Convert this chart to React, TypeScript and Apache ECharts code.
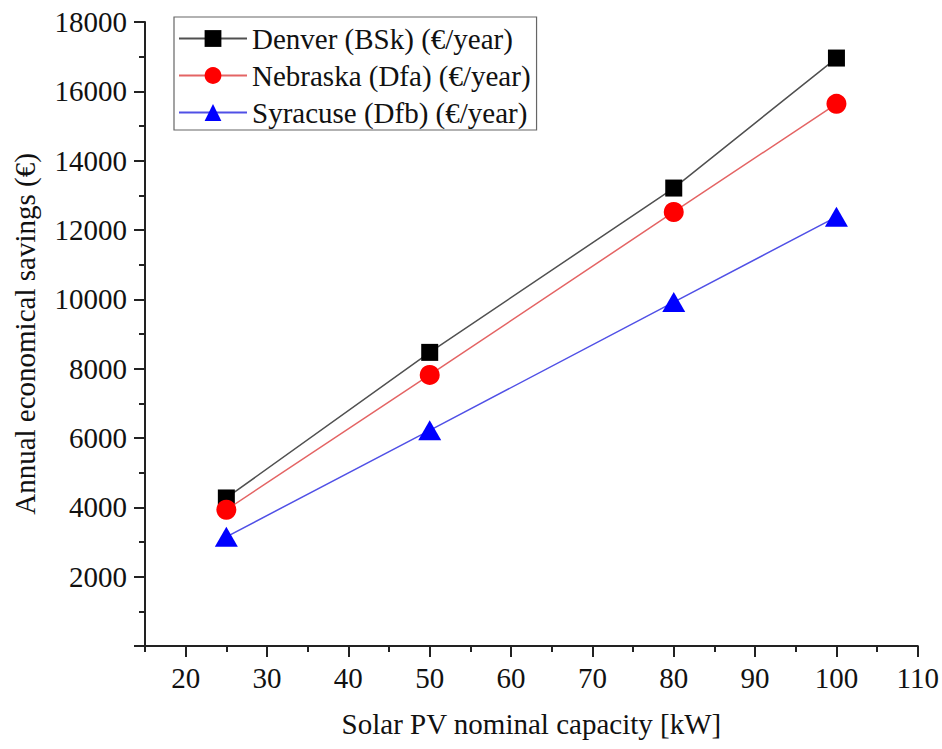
import React, { useEffect, useRef } from "react";
import * as echarts from "echarts";

const capacities = [25, 50, 80, 100];
const denver = [4270, 8470, 13210, 16960];
const nebraska = [3930, 7820, 12520, 15640];
const syracuse = [3150, 6220, 9920, 12380];
const xMajorTicks = [20, 30, 40, 50, 60, 70, 80, 90, 100, 110];
const xMinorTicks = [15, 25, 35, 45, 55, 65, 75, 85, 95, 105];
const seriesNames = [
  "Denver (BSk) (€/year)",
  "Nebraska (Dfa) (€/year)",
  "Syracuse (Dfb) (€/year)",
];

const FONT = "Liberation Serif";

export default function App() {
  const ref = useRef<HTMLDivElement>(null);
  useEffect(() => {
    if (!ref.current) return;
    const chart = echarts.init(ref.current, null, { renderer: "svg" });
    const toPairs = (ys: number[]) => capacities.map((x, i) => [x, ys[i]]);
    const axisColor = "#222";
    const txt = { fontFamily: FONT, fontSize: 29, color: "#111" };
    chart.setOption({
      animation: false,
      backgroundColor: "#ffffff",
      textStyle: txt,
      grid: { left: 145, top: 22, right: 23, bottom: 103, containLabel: false },
      legend: {
        orient: "vertical",
        left: 174,
        top: 17,
        padding: [7, 6, 3, 4],
        itemGap: 8,
        itemWidth: 68,
        itemHeight: 21,
        borderColor: "#666",
        borderWidth: 1.2,
        borderRadius: 0,
        backgroundColor: "#fff",
        textStyle: { ...txt },
        data: seriesNames,
      },
      xAxis: [
        {
          type: "value",
          min: 15,
          max: 110,
          name: "Solar PV nominal capacity [kW]",
          nameLocation: "middle",
          nameGap: 63,
          nameTextStyle: { ...txt },
          axisLine: { show: true, lineStyle: { color: axisColor, width: 2 } },
          axisTick: {
            show: true,
            inside: false,
            length: 11,
            lineStyle: { color: axisColor, width: 2 },
            customValues: xMajorTicks,
          },
          axisLabel: {
            ...txt,
            margin: 17,
            customValues: xMajorTicks,
          },
          splitLine: { show: false },
        },
        {
          type: "value",
          min: 15,
          max: 110,
          position: "bottom",
          axisLine: { show: false },
          axisTick: {
            show: true,
            inside: false,
            length: 6,
            lineStyle: { color: axisColor, width: 2 },
            customValues: xMinorTicks,
          },
          axisLabel: { show: false },
          splitLine: { show: false },
        },
      ],
      yAxis: {
        type: "value",
        min: 0,
        max: 18000,
        interval: 2000,
        name: "Annual economical savings (€)",
        nameLocation: "middle",
        nameGap: 106,
        nameTextStyle: { ...txt },
        axisLine: { show: true, lineStyle: { color: axisColor, width: 2 } },
        axisTick: {
          show: true,
          inside: false,
          length: 11,
          lineStyle: { color: axisColor, width: 2 },
        },
        minorTick: {
          show: true,
          splitNumber: 2,
          length: 6,
          lineStyle: { color: axisColor, width: 2 },
        },
        axisLabel: {
          ...txt,
          margin: 18,
          formatter: (v: number) => (v === 0 ? "" : String(v)),
        },
        splitLine: { show: false },
      },
      series: [
        {
          name: seriesNames[0],
          type: "line",
          data: toPairs(denver),
          symbol: "rect",
          symbolSize: 17,
          lineStyle: { color: "#505050", width: 1.5 },
          itemStyle: { color: "#000000" },
          z: 3,
        },
        {
          name: seriesNames[1],
          type: "line",
          data: toPairs(nebraska),
          symbol: "circle",
          symbolSize: 20,
          lineStyle: { color: "#e46464", width: 1.5 },
          itemStyle: { color: "#ff0000" },
          z: 4,
        },
        {
          name: seriesNames[2],
          type: "line",
          data: toPairs(syracuse),
          symbol: "triangle",
          symbolSize: [23, 20],
          lineStyle: { color: "#5050e6", width: 1.5 },
          itemStyle: { color: "#0000ff" },
          z: 5,
        },
      ],
    });
    return () => chart.dispose();
  }, []);
  return (
    <div
      ref={ref}
      style={{ position: "fixed", left: 0, top: 0, width: 942, height: 749 }}
    />
  );
}
